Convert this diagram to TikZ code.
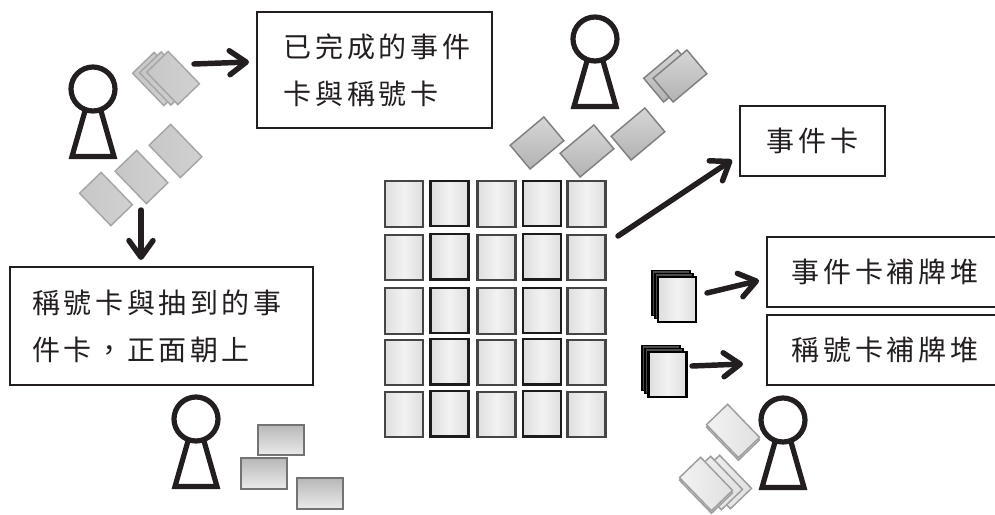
\documentclass[tikz,border=0pt]{standalone}
\usepackage{fontspec}
\usetikzlibrary{arrows.meta}
\newfontfamily\cjk[LetterSpace=13]{Noto Sans CJK TC}
\definecolor{ink}{HTML}{231F20}
\definecolor{gridA}{HTML}{454545}
\definecolor{gridB}{HTML}{1C1C1C}
\tikzset{
  x=0.75pt,y=-0.75pt,
  box/.style={draw=ink,line width=1.4pt,fill=white,inner sep=0pt,
    font=\cjk\fontsize{21pt}{35.25pt}\selectfont,text=ink},
  flow/.style={draw=ink,line width=4.1pt,line cap=round,
    -{Straight Barb[length=12.5pt,width=18pt,line width=4.1pt,round]}},
  pawnline/.style={draw=ink,line width=3.9pt,miter limit=10},
  cardbase/.style={rectangle,inner sep=0pt,minimum width=33.75pt,minimum height=22.5pt},
  plain/.style={cardbase,draw=black!35,line width=1.1pt,left color=black!22,right color=black!18},
  slate/.style={cardbase,minimum width=33pt,minimum height=23.25pt,draw=black!50,line width=1.1pt,
    bottom color=black!30,top color=black!16},
  pale/.style={cardbase,minimum width=34.5pt,minimum height=22pt,draw=black!38,line width=1.1pt,
    left color=black!5,right color=black!12},
  flat/.style={cardbase,minimum width=34.5pt,minimum height=23pt,draw=black!55,line width=1.5pt,
    top color=black!28,bottom color=black!8},
  gridcard/.style={rectangle,inner sep=0pt,minimum width=28.5pt,minimum height=34pt,line width=1.6pt,
    left color=black!13,right color=black!13,middle color=black!5},
  backcard/.style={rectangle,inner sep=0pt,minimum width=28.5pt,minimum height=33.5pt,
    draw=black,line width=1pt,fill=black!70},
  pawn/.pic={
    \draw[pawnline] (-8,22)--(-21,67.5)--(21,67.5)--(8,22);
    \draw[pawnline,fill=white] (0,0) circle[radius=16.5pt];
  }
}
\begin{document}
\begin{tikzpicture}
\useasboundingbox (0,0) rectangle (995,514);

% pawns
\pic at (93,89) {pawn};
\pic at (595,39) {pawn};
\pic at (783,420) {pawn};
\pic at (196,419) {pawn};

% cards held by the upper left pawn
\node[plain,rotate=-46] (a1) at (106,199) {};
\node[plain,rotate=-46] (a2) at (141.5,177) {};
\node[plain,rotate=-46] (a3) at (175.5,151) {};
\node[plain,rotate=-46] (s1) at (159,79) {};
\node[plain,rotate=-46] (s2) at (166,78.5) {};
\node[plain,rotate=-46] (s3) at (173,78) {};

% cards held by the upper pawn
\node[slate,rotate=40] (b1) at (537,143) {};
\node[slate,rotate=40] (b2) at (587,151) {};
\node[slate,rotate=40] (b3) at (638,134) {};
\node[slate,rotate=40] (t1) at (670.5,76) {};
\node[slate,rotate=40] (t2) at (680,76) {};

% cards of the lower right pawn
\node[pale,rotate=-46] (c0) at (733,433.5) {};
\node[pale,rotate=-46] (c1) at (733,431) {};
\node[pale,rotate=-46] (d3) at (725,482) {};
\node[pale,rotate=-46] (d2) at (716,483) {};
\node[pale,rotate=-46] (d0) at (706,486.5) {};
\node[pale,rotate=-46] (d1) at (706,484) {};

% cards of the lower left pawn
\node[flat] (e1) at (280.5,440) {};
\node[flat] (e2) at (263.5,473.5) {};
\node[flat] (e3) at (319.5,493.5) {};

% the grid of cards
\foreach \cx/\dy/\col [count=\c] in {404/0/gridA,449.5/-0.7/gridB,496.5/0/gridA,542/-0.7/gridB,586.5/0/gridA}
  \foreach \cy [count=\r] in {204,257.5,311,362.5,414.5}
    \node[gridcard,draw=\col] (g\r\c) at (\cx,\cy+\dy) {};

% the draw piles
\node[backcard] (f1) at (671,293) {};
\node[backcard] (f2) at (674,296) {};
\node[gridcard,draw=black,minimum height=33.5pt] (f3) at (677,299.5) {};
\node[backcard] (h1) at (661,368) {};
\node[backcard] (h2) at (664,371) {};
\node[gridcard,draw=black,minimum height=33.5pt] (h3) at (667.5,374.5) {};

% text boxes
\node[box,minimum width=176pt,minimum height=87pt,align=left,text width=136pt] (done) at (374.5,70)
  {\rlap{已完成的事件}\\\rlap{卡與稱號卡}};
\node[box,minimum width=227pt,minimum height=88.5pt,align=left,text width=194pt] (face) at (161.5,326)
  {\rlap{稱號卡與抽到的事}\\\rlap{件卡，正面朝上}};
\node[box,minimum width=108.75pt,minimum height=52.5pt] (event) at (812.5,141) {事件卡};
\node[box,minimum width=177pt,minimum height=52.5pt] (refillA) at (885,272) {事件卡補牌堆};
\node[box,minimum width=177pt,minimum height=52.5pt] (refillB) at (885,350) {稱號卡補牌堆};

% connector ends
\coordinate (u1) at (194,64);   \coordinate (v1) at (249,62);
\coordinate (u2) at (141,210);  \coordinate (v2) at (141,260);
\coordinate (u3) at (618,236);  \coordinate (v3) at (732,160);
\coordinate (u4) at (707,293);  \coordinate (v4) at (759,280.5);
\coordinate (u5) at (692,366);  \coordinate (v5) at (743,364);

% connectors
\draw[flow] (u1) -- (v1);
\draw[flow] (u2) -- (v2);
\draw[flow] (u3) -- (v3);
\draw[flow] (u4) -- (v4);
\draw[flow] (u5) -- (v5);
\end{tikzpicture}
\end{document}
